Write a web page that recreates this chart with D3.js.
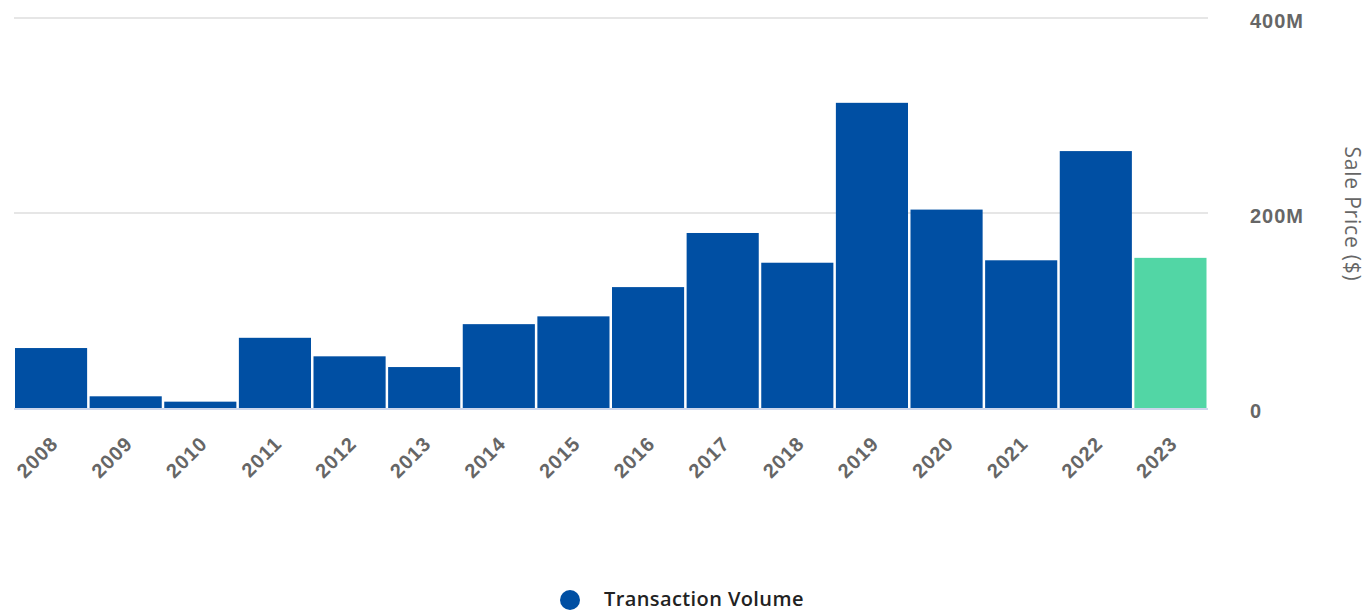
<!DOCTYPE html>
<html><head><meta charset="utf-8">
<script src="https://cdn.jsdelivr.net/npm/d3@7"></script>
<style>body{margin:0;background:#fff;}svg{display:block;font-family:"Open Sans","Noto Sans",sans-serif;}</style>
</head><body><svg id="c" width="1369" height="612"></svg>
<script>
const years = ["2008","2009","2010","2011","2012","2013","2014","2015","2016","2017","2018","2019","2020","2021","2022","2023"];
const volume = [61.5,12,6.5,72,53,42,86,94,124,179.5,149,313,203.5,151.5,263.5,154]; // $M
const yTicks = [0,200,400];
const tickLabels = ["0","200M","400M"];
const colors = {bar:"#004fa3", last:"#52d6a5"};

const svg = d3.select("#c");
const x = d3.scaleBand().domain(years).range([14,1208]).padding(0);
const y = d3.scaleLinear().domain([0,400]).range([408,18]);

svg.append("g").selectAll("line").data(yTicks.slice(1)).join("line")
  .attr("x1",14).attr("x2",1208).attr("y1",d=>y(d)).attr("y2",d=>y(d))
  .attr("stroke","#e6e6e6").attr("stroke-width",2);

svg.append("g").selectAll("rect").data(years).join("rect")
  .attr("x",d=>x(d)+1).attr("width",x.bandwidth()-2.5)
  .attr("y",(d,i)=>y(volume[i])).attr("height",(d,i)=>y(0)-y(volume[i]))
  .attr("fill",(d,i)=>i===years.length-1?colors.last:colors.bar);

svg.append("line").attr("x1",14).attr("x2",1208).attr("y1",409).attr("y2",409)
  .attr("stroke","#ccd6eb").attr("stroke-width",2);

const ya = d3.axisRight(y).tickValues(yTicks).tickFormat((d,i)=>tickLabels[i]).tickSize(0).tickPadding(0);
const gy = svg.append("g").attr("transform","translate(1250,2)").call(ya);
gy.select(".domain").remove();
gy.selectAll("text").attr("font-size",20).attr("fill","#666").attr("font-weight",600)
  .attr("letter-spacing","1px").attr("dy","0.35em");

svg.append("text").attr("transform","translate(1345,214) rotate(90)")
  .attr("text-anchor","middle").attr("font-size",21).attr("fill","#666")
  .attr("letter-spacing","0.8px").text("Sale Price ($)");

const xa = d3.axisBottom(x).tickSize(0).tickPadding(0);
const gx = svg.append("g").attr("transform","translate(0,409)").call(xa);
gx.select(".domain").remove();
gx.selectAll("text").attr("font-size",20).attr("fill","#666").attr("font-weight",600)
  .attr("letter-spacing","1px")
  .attr("text-anchor","end").attr("dy",0).attr("y",0)
  .attr("transform","translate(8,36) rotate(-45)");

const lg = svg.append("g");
lg.append("circle").attr("cx",570).attr("cy",600).attr("r",10).attr("fill",colors.bar);
lg.append("text").attr("x",604).attr("y",606).attr("font-size",20).attr("font-weight",600)
  .attr("fill","#222").attr("letter-spacing","0.4px").text("Transaction Volume");
</script></body></html>
